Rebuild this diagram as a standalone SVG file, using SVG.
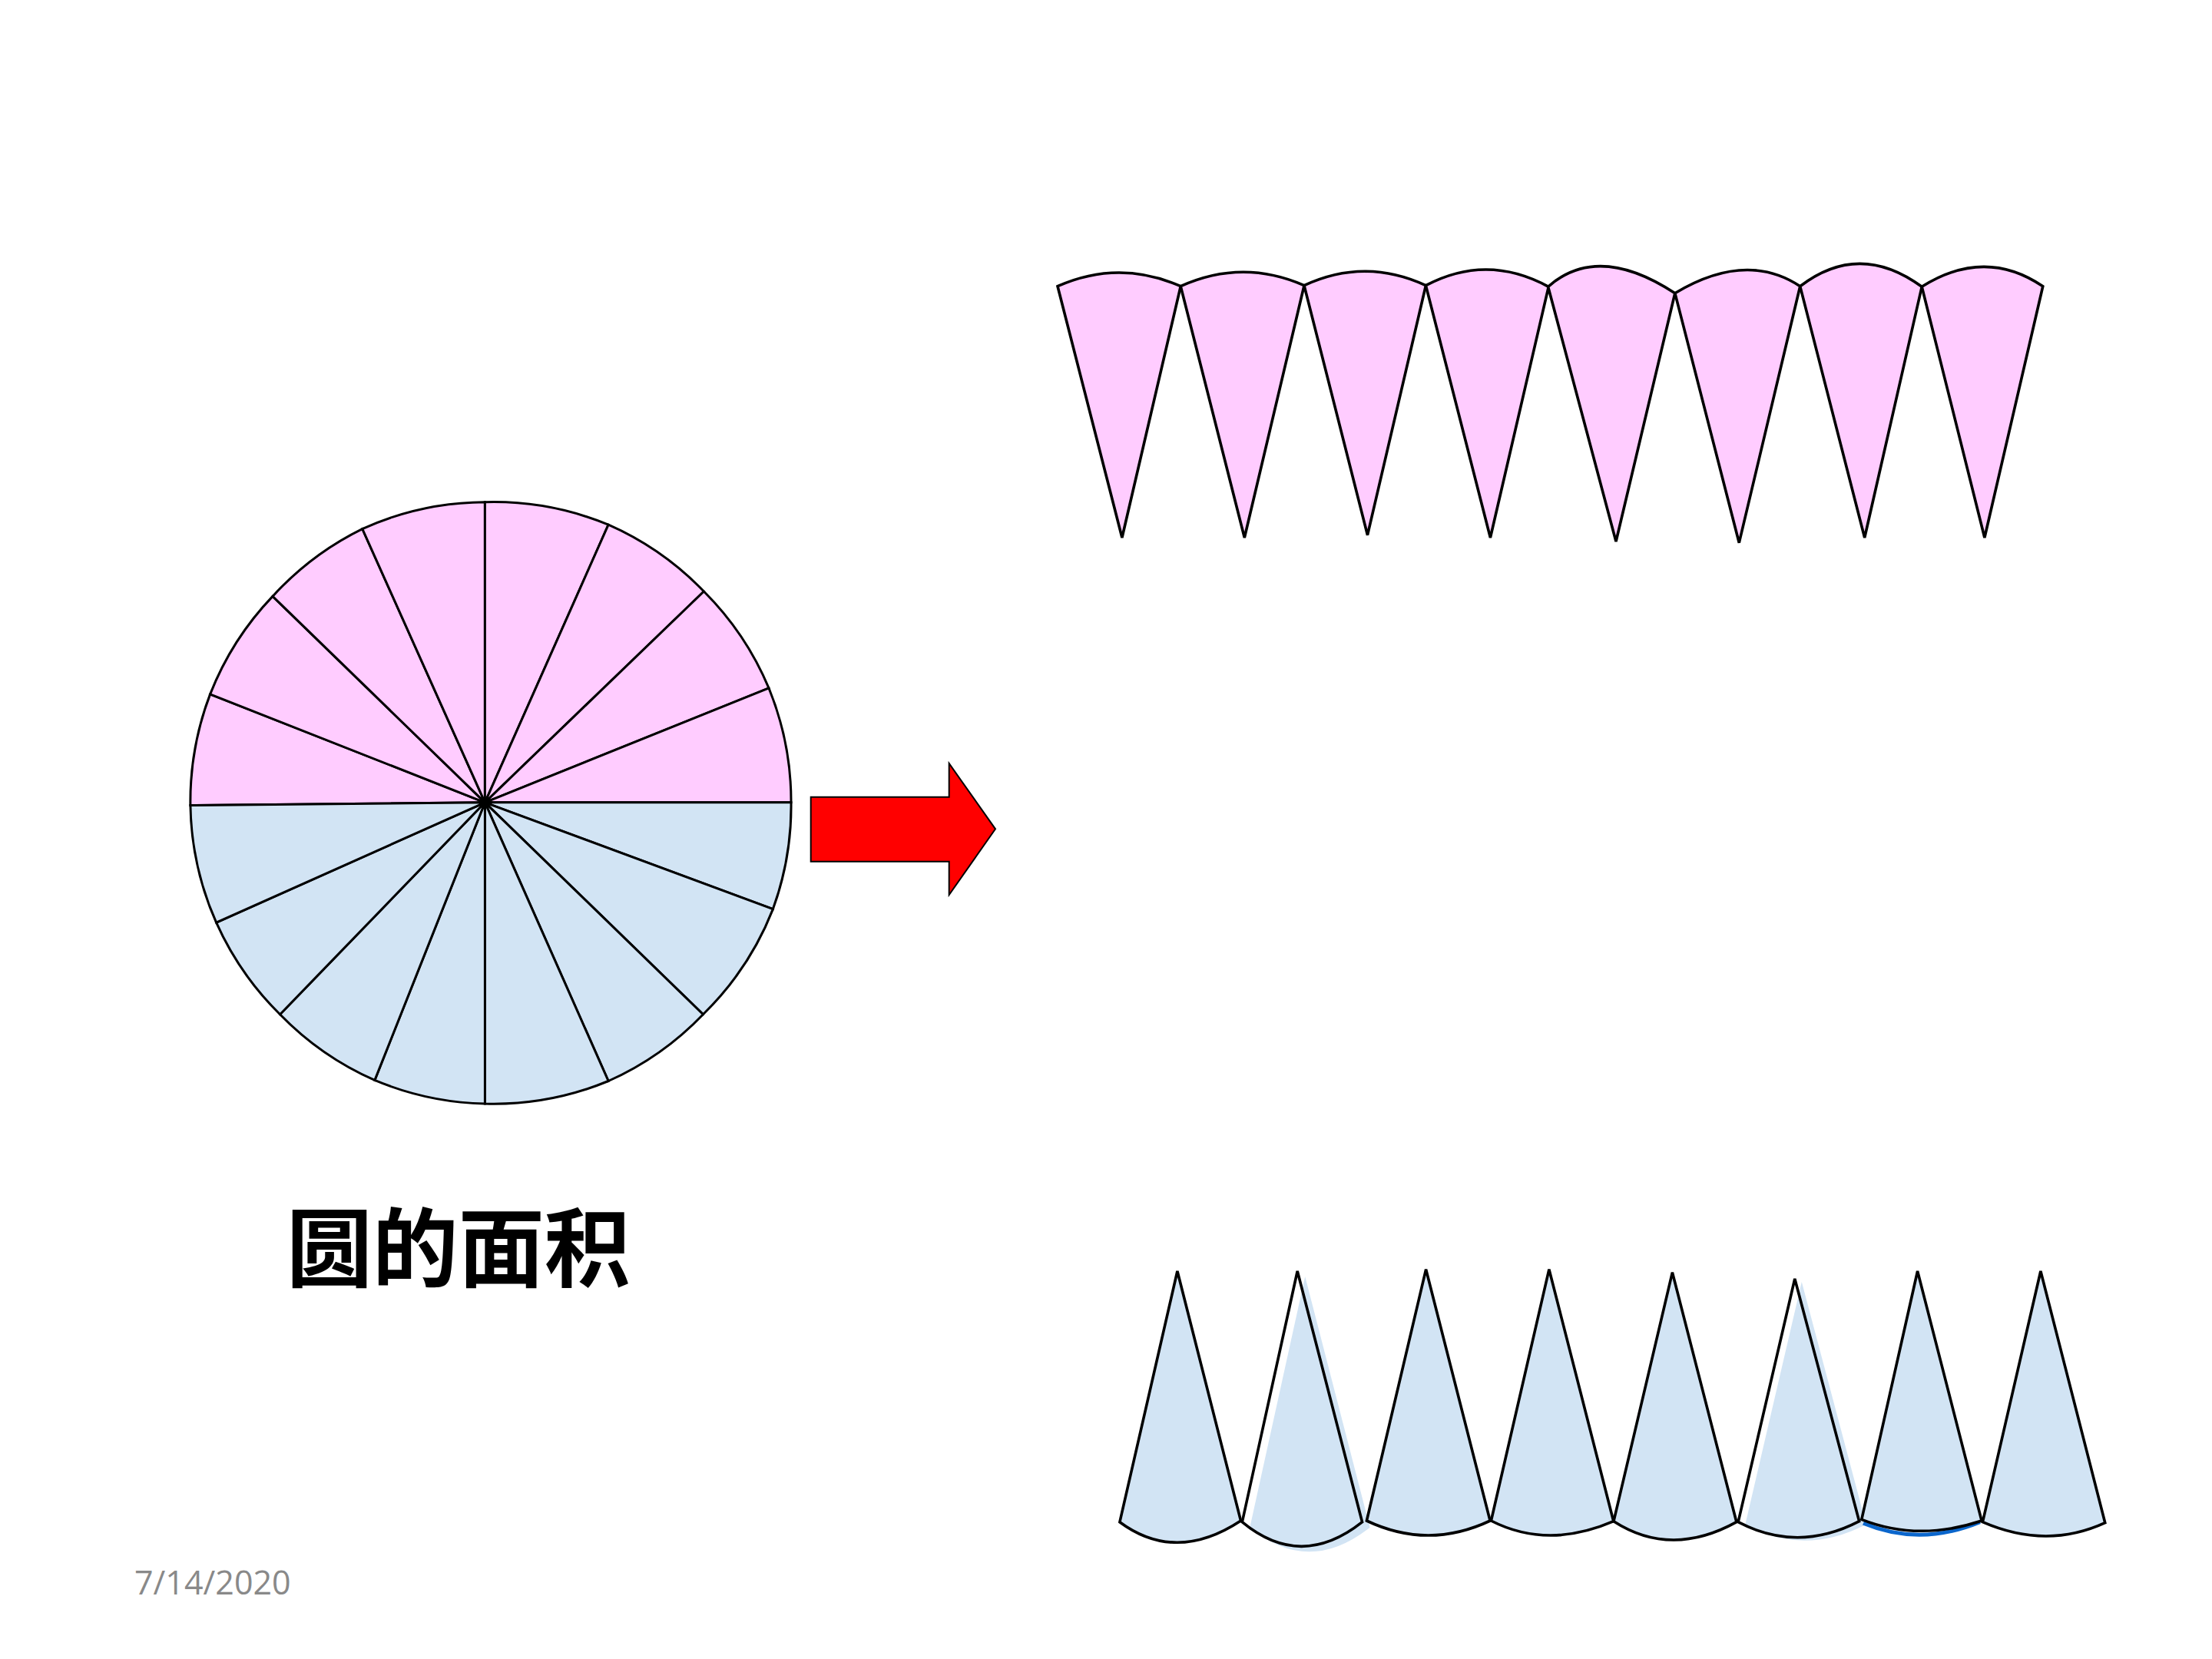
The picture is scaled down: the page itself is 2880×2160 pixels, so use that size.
<svg xmlns="http://www.w3.org/2000/svg" width="2880" height="2160" viewBox="0 0 2880 2160">
<style>
.pk{fill:#FFCCFF;stroke:#000;stroke-width:3;stroke-linejoin:miter}
.bl{fill:#D2E4F4;stroke:#000;stroke-width:3;stroke-linejoin:miter}
.sec .pk,.sec .bl,.sec .ol{stroke-width:3.6}
.blf{fill:#D2E4F4;stroke:none}
.ol{fill:none;stroke:#000;stroke-width:3}
.title{font-family:"Noto Sans CJK SC","Noto Sans",sans-serif;font-weight:bold;font-size:112px;fill:#000}
.date{font-family:"Open Sans","Liberation Sans",sans-serif;font-size:43px;fill:#898989}
</style>
<rect width="2880" height="2160" fill="#fff"/>
<g id="circle">
<path class="pk" d="M631.4,1044.8 L247.9,1048.6 A391.5,391.5 0 0 1 273.6,903.9 Z"/>
<path class="pk" d="M631.4,1044.8 L273.6,903.9 A391.5,391.5 0 0 1 355,776.4 Z"/>
<path class="pk" d="M631.4,1044.8 L355,776.4 A391.5,391.5 0 0 1 471.8,688.6 Z"/>
<path class="pk" d="M631.4,1044.8 L471.8,688.6 A391.5,391.5 0 0 1 631.4,653.75 Z"/>
<path class="pk" d="M631.4,1044.8 L631.4,653.75 A391.5,391.5 0 0 1 792.1,683.2 Z"/>
<path class="pk" d="M631.4,1044.8 L792.1,683.2 A391.5,391.5 0 0 1 916.4,770 Z"/>
<path class="pk" d="M631.4,1044.8 L916.4,770 A391.5,391.5 0 0 1 1001,895.9 Z"/>
<path class="pk" d="M631.4,1044.8 L1001,895.9 A391.5,391.5 0 0 1 1030,1044.8 Z"/>
<path class="bl" d="M631.4,1044.8 L1030,1044.8 A391.5,391.5 0 0 1 1006.4,1183.6 Z"/>
<path class="bl" d="M631.4,1044.8 L1006.4,1183.6 A391.5,391.5 0 0 1 915.4,1320.7 Z"/>
<path class="bl" d="M631.4,1044.8 L915.4,1320.7 A391.5,391.5 0 0 1 792.1,1407.5 Z"/>
<path class="bl" d="M631.4,1044.8 L792.1,1407.5 A391.5,391.5 0 0 1 631.4,1437 Z"/>
<path class="bl" d="M631.4,1044.8 L631.4,1437 A391.5,391.5 0 0 1 487.9,1406.4 Z"/>
<path class="bl" d="M631.4,1044.8 L487.9,1406.4 A391.5,391.5 0 0 1 364.6,1320.7 Z"/>
<path class="bl" d="M631.4,1044.8 L364.6,1320.7 A391.5,391.5 0 0 1 281.6,1201.2 Z"/>
<path class="bl" d="M631.4,1044.8 L281.6,1201.2 A391.5,391.5 0 0 1 247.9,1048.6 Z"/>
</g>
<g id="arrow">
<path d="M1055.7,1037.7 L1235.7,1037.7 L1235.7,994 L1296,1079.3 L1235.7,1165 L1235.7,1121.7 L1055.7,1121.7 Z" fill="#FF0000" stroke="#000" stroke-width="2"/>
</g>
<g id="top-sectors" class="sec">
<path class="pk" d="M1460.9,700 L1377,372.7 Q1457,337.3 1537.2,372.7 Z"/>
<path class="pk" d="M1620.3,700 L1537.2,372.7 Q1617.6,336.4 1698,371.7 Z"/>
<path class="pk" d="M1780.5,696.7 L1698,371.7 Q1777,334.9 1856.4,371.7 Z"/>
<path class="pk" d="M1940.4,700 L1856.4,371.7 Q1936,329.5 2016.2,373.3 Z"/>
<path class="pk" d="M2104,705 L2015.6,373.3 Q2080.4,315.9 2180.8,381.7 Z"/>
<path class="pk" d="M2264.3,706.7 L2180.8,381.7 Q2273.5,326.2 2343.7,372.7 Z"/>
<path class="pk" d="M2427.7,700 L2343.7,372.7 Q2420.8,313.6 2502.2,373.3 Z"/>
<path class="pk" d="M2583.9,700 L2502.2,373.3 Q2584.2,321.6 2659.8,372.7 Z"/>
</g>
<g id="bottom-sectors" class="sec">
<path class="bl" d="M1532.9,1655 L1457.9,1981.7 Q1530.9,2035.7 1615.5,1980 Z"/>
<g id="b2">
<path class="blf" transform="translate(10,7)" d="M1689.2,1655 L1617.3,1981.7 Q1693.7,2044.9 1773.6,1981.7 Z"/>
<path class="ol" d="M1689.2,1655 L1617.3,1981.7 Q1693.7,2044.9 1773.6,1981.7 Z"/>
</g>
<path class="bl" d="M1856.6,1652.7 L1779.4,1980 Q1859.6,2018 1940.1,1980 Z"/>
<path class="bl" d="M2016.9,1652.7 L1941.4,1980 Q2015.3,2017.6 2100.8,1980.7 Z"/>
<path class="bl" d="M2177.4,1656.7 L2101,1980.7 Q2175.6,2028.8 2260.9,1981.7 Z"/>
<g id="b6">
<path class="blf" transform="translate(9,4)" d="M2336.8,1665 L2263.1,1981.7 Q2340.6,2022.2 2420.7,1980.7 Z"/>
<path class="ol" d="M2336.8,1665 L2263.1,1981.7 Q2340.6,2022.2 2420.7,1980.7 Z"/>
</g>
<g id="b7">
<path class="blf" d="M2496.6,1655 L2423.8,1978.3 Q2497.4,2007.4 2580.1,1980 Z"/>
<path d="M2426,1983.3 Q2499.7,2014 2577.9,1981.7" fill="none" stroke="#0B66CC" stroke-width="5"/>
<path class="ol" d="M2496.6,1655 L2423.8,1978.3 Q2497.4,2007.4 2580.1,1980 Z"/>
</g>
<path class="bl" d="M2656.9,1655 L2581.4,1981.7 Q2664.3,2017.8 2740.8,1982.7 Z"/>
</g>
<text class="title" x="596.7" y="1667" text-anchor="middle">圆的面积</text>
<text class="date" x="175" y="2076">7/14/2020</text>
</svg>
